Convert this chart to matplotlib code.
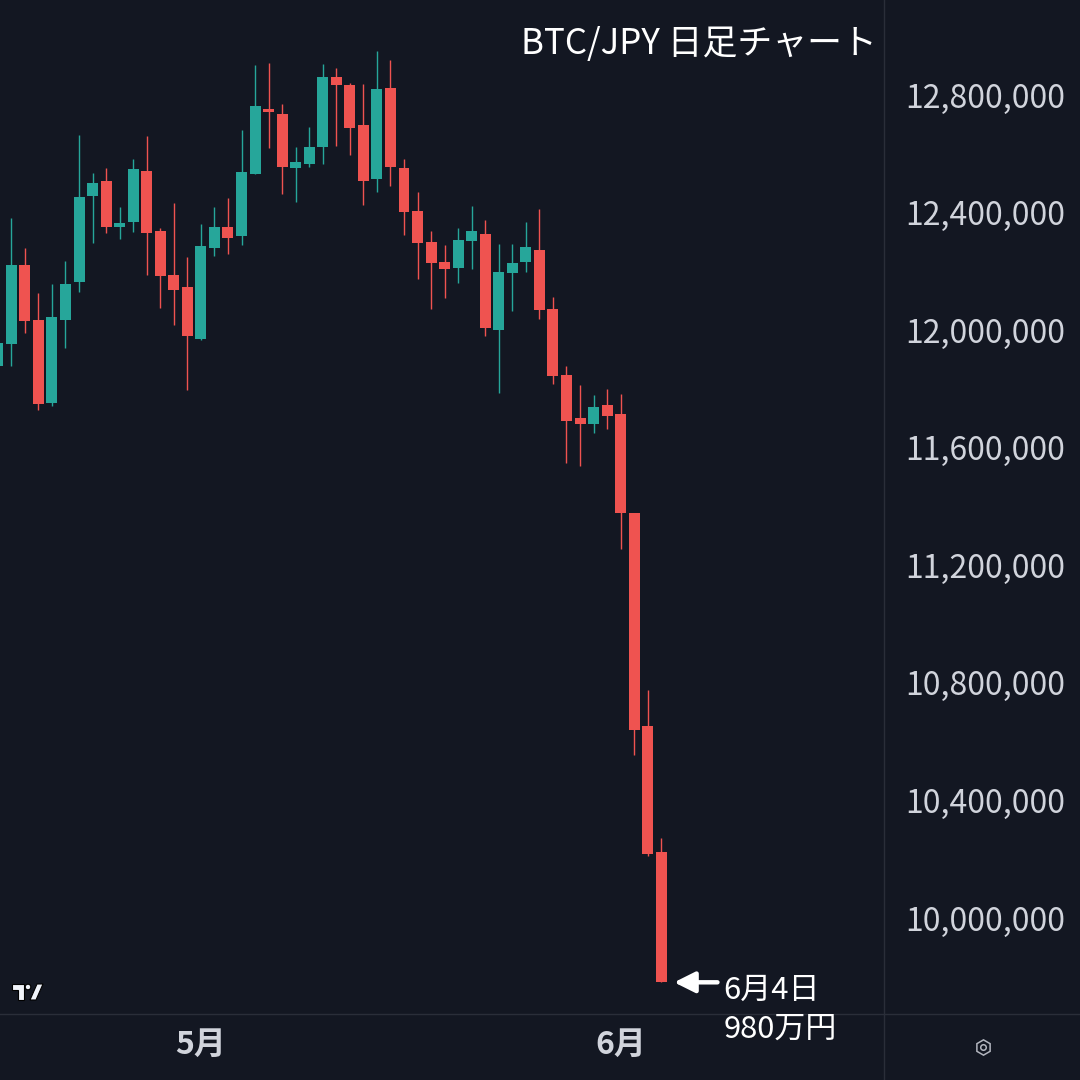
import numpy as np
import pandas as pd
import matplotlib
matplotlib.use('Agg')
import matplotlib.pyplot as plt
import matplotlib.dates as mdates
import matplotlib.transforms as mtransforms
from matplotlib.ticker import FuncFormatter
from matplotlib.patches import Polygon, Circle

# BTC/JPY daily candles, 4/16 - 6/4
dates = pd.date_range('2024-04-16', '2024-06-04', freq='D')
opens = [11886000, 11961000, 12228000, 12041000, 11760000, 12042000, 12172000, 12464000, 12514000, 12359000,
         12376000, 12548000, 12344000, 12194000, 12154000, 11978000, 12287000, 12358000, 12328000, 12539000,
         12759000, 12742000, 12560000, 12573000, 12631000, 12868000, 12841000, 12705000, 12522000, 12831000,
         12558000, 12412000, 12307000, 12239000, 12219000, 12311000, 12334000, 12008000, 12202000, 12240000,
         12280000, 12079000, 11854000, 11708000, 11689000, 11752000, 11722000, 11385000, 10660000, 10232000]
highs = [11990000, 12388000, 12286000, 12133000, 12164000, 12242000, 12671000, 12541000, 12558000, 12426000,
         12589000, 12667000, 12354000, 12439000, 12256000, 12368000, 12426000, 12456000, 12688000, 12909000,
         12916000, 12776000, 12630000, 12698000, 12912000, 12899000, 12848000, 12844000, 12957000, 12926000,
         12589000, 12477000, 12344000, 12297000, 12354000, 12429000, 12382000, 12300000, 12300000, 12375000,
         12419000, 12120000, 11885000, 11820000, 11786000, 11807000, 11790000, 11385000, 10783000, 10279000]
lows = [11870000, 11886000, 11998000, 11736000, 11750000, 11947000, 12138000, 12304000, 12338000, 12318000,
        12342000, 12195000, 12083000, 12025000, 11804000, 11974000, 12260000, 12267000, 12298000, 12539000,
        12628000, 12471000, 12444000, 12563000, 12573000, 12634000, 12604000, 12434000, 12478000, 12498000,
        12332000, 12182000, 12080000, 12117000, 12168000, 12216000, 11988000, 11794000, 12073000, 12206000,
        12046000, 11825000, 11556000, 11546000, 11658000, 11672000, 11261000, 10562000, 10219000, 9788000]
closes = [11963000, 12228000, 12039000, 11757000, 12052000, 12164000, 12460000, 12507000, 12359000, 12371000,
          12555000, 12338000, 12192000, 12144000, 11988000, 12293000, 12358000, 12321000, 12545000, 12769000,
          12750000, 12563000, 12579000, 12630000, 12868000, 12842000, 12696000, 12515000, 12827000, 12563000,
          12410000, 12304000, 12236000, 12216000, 12314000, 12344000, 12015000, 12205000, 12235000, 12290000,
          12076000, 11852000, 11699000, 11689000, 11745000, 11716000, 11386000, 10648000, 10226000, 9788000]

price_ticks = [10000000, 10400000, 10800000, 11200000, 11600000, 12000000, 12400000, 12800000]
month_ticks = ['2024-05-01', '2024-06-01']
month_labels = ['5月', '6月']
note_lines = ['6月4日', '980万円']
title = 'BTC/JPY 日足チャート'

bg = '#131722'
up_col = '#26a69a'
down_col = '#ef5350'
txt_col = '#d1d4dc'
line_col = '#2a2e39'

plt.rcParams['font.family'] = ['Noto Sans CJK JP', 'DejaVu Sans']

fig = plt.figure(figsize=(10.8, 10.8), dpi=100, facecolor=bg)

# frame lines, logo and the little settings icon, in pixel coords
ov = fig.add_axes([0, 0, 1, 1], zorder=0)
ov.set_xlim(0, 1080)
ov.set_ylim(1080, 0)
ov.axis('off')
ov.plot([0, 1080], [1014, 1014], color=line_col, lw=1)
ov.plot([884, 884], [0, 1080], color=line_col, lw=1)
ov.add_patch(Polygon([(12, 984), (24, 984), (24, 1000), (18, 1000), (18, 990), (12, 990)],
                     closed=True, fc='#f0f3fa', ec='black', lw=0.8))
ov.add_patch(Circle((28, 987), 2.8, fc='#f0f3fa', ec='black', lw=0.8))
ov.add_patch(Polygon([(30, 1000), (37, 984), (43, 984), (36, 1000)],
                     closed=True, fc='#f0f3fa', ec='black', lw=0.8))
ov.plot(983, 1047, marker='h', ms=11, mfc='none', mec='#b2b5be', mew=1.1)
ov.plot(983, 1047, marker='o', ms=4, mfc='none', mec='#b2b5be', mew=1.1)

# price chart
ax = fig.add_axes([0, 1 - 1014/1080, 884/1080, 1014/1080], zorder=1)
ax.patch.set_alpha(0)

x = mdates.date2num(dates)
o = np.array(opens)
c = np.array(closes)
colors = [up_col if cc >= oo else down_col for oo, cc in zip(o, c)]

ax.vlines(x, lows, highs, colors=colors, lw=1.0)
ax.bar(x, np.abs(c - o), bottom=np.minimum(o, c), width=0.81, color=colors, lw=0)

ax.set_xlim(x[0] + 0.163, x[0] + 65.45)
ax.set_ylim(9680183, 13130013)

for s in ax.spines.values():
    s.set_visible(False)

ax.yaxis.tick_right()
ax.set_yticks(price_ticks)
ax.yaxis.set_major_formatter(FuncFormatter(lambda v, p: '{:,}'.format(int(v))))
ax.tick_params(axis='y', length=0, pad=15, labelsize=23, labelcolor=txt_col)
nudge = mtransforms.ScaledTranslation(0, 2/100, fig.dpi_scale_trans)
for lab in ax.get_yticklabels():
    lab.set_transform(lab.get_transform() + nudge)

ax.set_xticks(mdates.date2num(pd.to_datetime(month_ticks)))
ax.set_xticklabels(month_labels, fontweight='bold')
ax.tick_params(axis='x', length=0, pad=11, labelsize=23, labelcolor=txt_col)

fig.text(877/1080, 1 - 44/1080, title, ha='right', va='center', fontsize=25.1, color='white')

# arrow + note on the last candle
last = len(dates) - 1
tip_x = x[last] + 0.95
ax.annotate('', xy=(tip_x, closes[last]), xytext=(tip_x + 3.2, closes[last]),
            arrowprops=dict(arrowstyle='-|>,head_length=0.9,head_width=0.45', color='white',
                            lw=3.2, mutation_scale=14, shrinkA=0, shrinkB=0))
ax.annotate(note_lines[0], xy=(x[last], closes[last]), xytext=(62, -17), textcoords='offset pixels',
            ha='left', va='baseline', fontsize=22.3, color='white', annotation_clip=False)
ax.annotate(note_lines[1], xy=(x[last], closes[last]), xytext=(62, -55), textcoords='offset pixels',
            ha='left', va='baseline', fontsize=22.3, color='white', annotation_clip=False)

fig.savefig('out.png', dpi=100, facecolor=bg)
